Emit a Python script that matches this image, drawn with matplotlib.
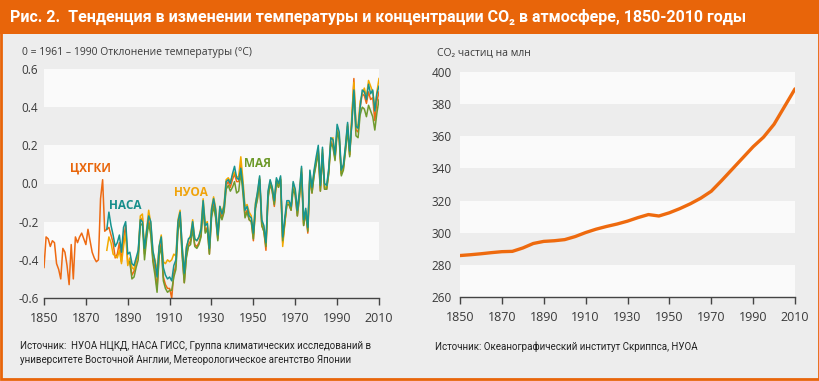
import matplotlib.pyplot as plt
from matplotlib.patches import Rectangle

plt.rcParams['font.family'] = ['Open Sans', 'DejaVu Sans']

# Отклонение температуры (°C) относительно 1961-1990
years_hadcrut = list(range(1850, 2011))
temp_hadcrut = [
    -0.44, -0.28, -0.29, -0.33, -0.30, -0.31, -0.42, -0.45, -0.50, -0.34,
    -0.36, -0.43, -0.53, -0.32, -0.50, -0.28, -0.31, -0.28, -0.26, -0.29,
    -0.32, -0.24, -0.30, -0.36, -0.39, -0.41, -0.40, -0.08, 0.02, -0.25,
    -0.24, -0.23, -0.27, -0.31, -0.39, -0.37, -0.31, -0.41, -0.29, -0.22,
    -0.42, -0.41, -0.48, -0.46, -0.41, -0.37, -0.20, -0.18, -0.37, -0.27,
    -0.19, -0.25, -0.39, -0.45, -0.55, -0.37, -0.31, -0.49, -0.53, -0.55,
    -0.55, -0.60, -0.47, -0.43, -0.23, -0.17, -0.37, -0.52, -0.38, -0.32,
    -0.30, -0.23, -0.32, -0.33, -0.31, -0.27, -0.11, -0.25, -0.23, -0.37,
    -0.16, -0.10, -0.17, -0.29, -0.14, -0.18, -0.14, -0.01, 0.01, -0.02,
    0.02, 0.05, 0.01, 0.01, 0.10, -0.02, -0.17, -0.14, -0.19, -0.20,
    -0.30, -0.13, -0.07, 0.02, -0.22, -0.25, -0.35, -0.07, 0.00, -0.04,
    -0.12, 0.01, -0.02, 0.02, -0.31, -0.21, -0.11, -0.11, -0.14, -0.02,
    -0.06, -0.17, -0.07, 0.06, -0.22, -0.15, -0.26, 0.04, -0.05, 0.05,
    0.11, 0.17, -0.04, 0.16, -0.03, -0.03, 0.06, 0.22, 0.20, 0.13,
    0.28, 0.24, 0.05, 0.08, 0.18, 0.30, 0.15, 0.33, 0.55, 0.28,
    0.27, 0.40, 0.47, 0.46, 0.42, 0.48, 0.44, 0.45, 0.33, 0.43,
    0.48,
]

years_1880 = list(range(1880, 2011))
temp_nasa = [
    -0.24, -0.15, -0.22, -0.27, -0.33, -0.31, -0.27, -0.36, -0.23, -0.20,
    -0.37, -0.36, -0.42, -0.43, -0.39, -0.35, -0.19, -0.20, -0.34, -0.25,
    -0.17, -0.20, -0.35, -0.41, -0.49, -0.33, -0.28, -0.44, -0.48, -0.50,
    -0.49, -0.51, -0.43, -0.40, -0.20, -0.15, -0.33, -0.47, -0.34, -0.29,
    -0.28, -0.20, -0.29, -0.30, -0.28, -0.24, -0.09, -0.22, -0.21, -0.34,
    -0.14, -0.08, -0.14, -0.27, -0.12, -0.16, -0.12, 0.01, 0.02, 0.00,
    0.05, 0.09, 0.03, 0.02, 0.08, -0.01, -0.14, -0.12, -0.17, -0.18,
    -0.26, -0.11, -0.04, 0.04, -0.19, -0.22, -0.31, -0.04, 0.02, -0.02,
    -0.09, 0.03, 0.00, 0.04, -0.28, -0.18, -0.09, -0.09, -0.12, 0.01,
    -0.03, -0.14, -0.04, 0.09, -0.19, -0.13, -0.23, 0.07, -0.02, 0.07,
    0.14, 0.20, -0.01, 0.19, 0.00, -0.01, 0.08, 0.24, 0.23, 0.15,
    0.31, 0.27, 0.07, 0.10, 0.20, 0.32, 0.17, 0.31, 0.49, 0.30,
    0.29, 0.40, 0.49, 0.48, 0.44, 0.52, 0.47, 0.49, 0.38, 0.47,
    0.51,
]
temp_noaa = [
    -0.35, -0.28, -0.31, -0.37, -0.38, -0.39, -0.35, -0.42, -0.33, -0.26,
    -0.43, -0.39, -0.44, -0.45, -0.40, -0.37, -0.17, -0.16, -0.35, -0.24,
    -0.14, -0.21, -0.36, -0.40, -0.46, -0.33, -0.27, -0.41, -0.42, -0.40,
    -0.41, -0.40, -0.37, -0.38, -0.19, -0.14, -0.34, -0.46, -0.33, -0.30,
    -0.27, -0.19, -0.29, -0.30, -0.28, -0.23, -0.08, -0.21, -0.20, -0.34,
    -0.13, -0.07, -0.13, -0.27, -0.12, -0.15, -0.11, 0.02, 0.03, 0.01,
    0.04, 0.06, 0.03, 0.04, 0.14, 0.02, -0.12, -0.11, -0.15, -0.17,
    -0.27, -0.10, -0.05, 0.03, -0.20, -0.23, -0.32, -0.05, 0.01, -0.02,
    -0.10, 0.02, -0.01, 0.03, -0.33, -0.21, -0.10, -0.10, -0.13, 0.00,
    -0.04, -0.15, -0.05, 0.08, -0.21, -0.14, -0.24, 0.06, -0.03, 0.06,
    0.12, 0.18, -0.02, 0.18, -0.02, -0.02, 0.07, 0.23, 0.24, 0.14,
    0.28, 0.25, 0.05, 0.09, 0.19, 0.31, 0.15, 0.35, 0.53, 0.31,
    0.30, 0.43, 0.47, 0.50, 0.45, 0.54, 0.51, 0.48, 0.39, 0.48,
    0.55,
]

years_jma = list(range(1891, 2011))
temp_jma = [
    -0.41, -0.50, -0.49, -0.44, -0.40, -0.22, -0.21, -0.40, -0.29,
    -0.21, -0.27, -0.41, -0.48, -0.57, -0.38, -0.33, -0.51, -0.55, -0.57,
    -0.56, -0.56, -0.49, -0.45, -0.25, -0.19, -0.38, -0.52, -0.39, -0.33,
    -0.32, -0.24, -0.33, -0.34, -0.32, -0.28, -0.13, -0.26, -0.24, -0.37,
    -0.18, -0.12, -0.18, -0.30, -0.16, -0.19, -0.15, -0.03, -0.01, -0.04,
    -0.02, 0.01, -0.05, -0.04, 0.06, -0.05, -0.18, -0.15, -0.19, -0.20,
    -0.29, -0.13, -0.08, 0.02, -0.22, -0.25, -0.33, -0.08, 0.00, -0.04,
    -0.11, 0.01, -0.02, 0.02, -0.30, -0.20, -0.11, -0.11, -0.14, -0.03,
    -0.06, -0.17, -0.07, 0.05, -0.22, -0.15, -0.25, 0.04, -0.05, 0.04,
    0.10, 0.16, -0.04, 0.15, -0.03, -0.03, 0.05, 0.21, 0.19, 0.12,
    0.27, 0.23, 0.04, 0.07, 0.17, 0.28, 0.14, 0.32, 0.48, 0.25,
    0.24, 0.36, 0.40, 0.39, 0.35, 0.41, 0.38, 0.35, 0.28, 0.37,
    0.44,
]

# Концентрация CO2, частиц на млн
co2_years = list(range(1850, 2011, 5))
co2_ppm = [
    285.8, 286.3, 286.9, 287.6, 288.2, 288.4, 290.5, 293.3, 294.6, 295.0,
    295.7, 297.6, 300.1, 302.2, 303.9, 305.4, 307.2, 309.4, 311.3, 310.4,
    312.4, 315.0, 318.0, 321.5, 325.8, 332.5, 339.5, 346.5, 353.5, 359.5,
    367.5, 378.5, 389.5,
]

year_ticks = [1850, 1870, 1890, 1910, 1930, 1950, 1970, 1990, 2010]
temp_ticks = [-0.6, -0.4, -0.2, 0.0, 0.2, 0.4, 0.6]
temp_tick_labels = ['-0.6', '-0.4', '-0.2', '0.0', '0.2', '0.4', '0.6']
co2_ticks = [260, 280, 300, 320, 340, 360, 380, 400]

ORANGE = '#E8650A'
BG = '#EDEDED'
BAND = '#FAFAFA'
TXT = '#3A3A3A'
NARROW = ['Roboto', 'DejaVu Sans']

fig = plt.figure(figsize=(8.2, 3.81), dpi=100)
fig.patch.set_facecolor(BG)

# Оранжевая шапка и рамка
fig.patches.append(Rectangle((0, 1 - 34 / 381), 1, 34 / 381, transform=fig.transFigure,
                             facecolor=ORANGE, edgecolor='none', zorder=0))
fig.patches.append(Rectangle((0.0015, 0.004), 0.997, 0.99, transform=fig.transFigure,
                             fill=False, edgecolor=ORANGE, lw=2, zorder=0))
fig.text(10 / 820, 1 - 17 / 381,
         'Рис. 2.  Тенденция в изменении температуры и концентрации CO₂ в атмосфере, 1850-2010 годы',
         color='white', fontsize=11.5, fontweight='bold', va='center', ha='left',
         family=NARROW)


def style_axes(ax, ticks, pad):
    ax.set_facecolor(BG)
    n = len(ticks) - 1
    for i in range(n):
        if (n - 1 - i) % 2 == 0:
            ax.axhspan(ticks[i], ticks[i + 1], color=BAND, lw=0, zorder=0)
    for s in ['top', 'right', 'left']:
        ax.spines[s].set_visible(False)
    ax.spines['bottom'].set_color('#444444')
    ax.spines['bottom'].set_linewidth(1.0)
    ax.set_xlim(1850, 2010)
    ax.set_xticks(year_ticks)
    ax.tick_params(axis='x', length=5, width=1, color='#444444', pad=5,
                   labelsize=9, labelcolor=TXT)
    ax.tick_params(axis='y', length=0, pad=pad, labelsize=8.5, labelcolor=TXT)


# Левый график: температура
ax1 = fig.add_axes([44 / 820, 83 / 381, 335 / 820, 229 / 381])
style_axes(ax1, temp_ticks, 4)
ax1.set_ylim(-0.6, 0.6)
ax1.set_yticks(temp_ticks)
ax1.set_yticklabels(temp_tick_labels)
ax1.plot(years_hadcrut, temp_hadcrut, color='#EE6A12', lw=1.1, zorder=2)
ax1.plot(years_1880, temp_noaa, color='#F2A900', lw=1.1, zorder=3)
ax1.plot(years_jma, temp_jma, color='#6F9A2E', lw=1.1, zorder=4)
ax1.plot(years_1880, temp_nasa, color='#17948F', lw=1.1, zorder=5)

ax1.text(1872, 0.08, 'ЦХГКИ', color='#E8650A', fontsize=8.5, fontweight='bold', ha='center', va='center')
ax1.text(1889, -0.115, 'НАСА', color='#168E8B', fontsize=8.5, fontweight='bold', ha='center', va='center')
ax1.text(1920, -0.045, 'НУОА', color='#F0A30A', fontsize=8.5, fontweight='bold', ha='center', va='center')
ax1.text(1952, 0.105, 'МАЯ', color='#6D9A2A', fontsize=8.5, fontweight='bold', ha='center', va='center')

fig.text(22 / 820, 1 - 53 / 381, '0 = 1961 – 1990 Отклонение температуры (°C)',
         fontsize=7.5, color=TXT, va='center', ha='left')
fig.text(20 / 820, 1 - 353 / 381,
         'Источник:  НУОА НЦКД, НАСА ГИСС, Группа климатических исследований в\n'
         'университете Восточной Англии, Метеорологическое агентство Японии',
         fontsize=7, color='#222222', va='center', ha='left', linespacing=1.4,
         family=NARROW)

# Правый график: CO2
ax2 = fig.add_axes([460 / 820, 84 / 381, 335 / 820, 225 / 381])
style_axes(ax2, co2_ticks, 6)
ax2.set_ylim(260, 400)
ax2.set_yticks(co2_ticks)
ax2.plot(co2_years, co2_ppm, color='#EE6A0E', lw=2.4, zorder=3, solid_capstyle='round')

fig.text(437 / 820, 1 - 53 / 381, 'CO₂ частиц на млн', fontsize=7.5, color=TXT,
         va='center', ha='left')
fig.text(435 / 820, 1 - 347 / 381, 'Источник: Океанографический институт Скриппса, НУОА',
         fontsize=7, color='#222222', va='center', ha='left', family=NARROW)

fig.savefig('out.png', dpi=100, facecolor=BG)
